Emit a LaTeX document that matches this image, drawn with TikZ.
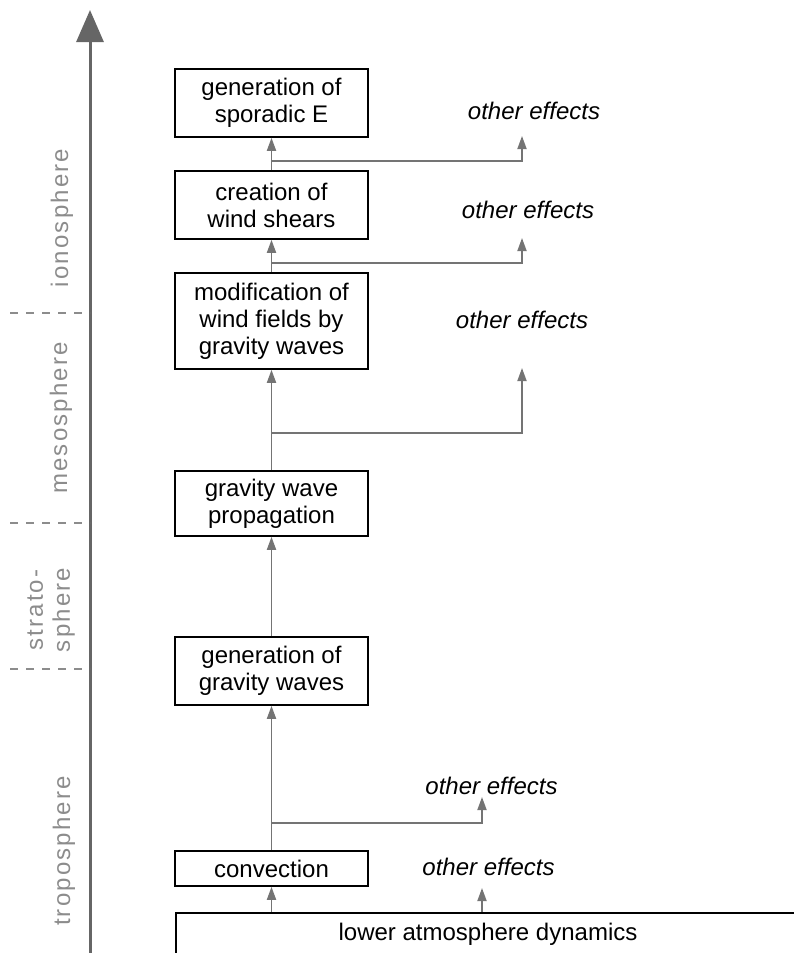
\documentclass[tikz,border=0pt]{standalone}
\usepackage{fontspec}
\setmainfont{Liberation Sans}
\usetikzlibrary{arrows.meta}
\definecolor{axisgray}{HTML}{666666}
\definecolor{linegray}{HTML}{747474}
\definecolor{labelgray}{HTML}{8C8C8C}
\begin{document}
\begin{tikzpicture}[x=1pt,y=-1pt,
  box/.style={draw=black,line width=1.6pt,minimum width=193pt,align=center,inner sep=0pt,
    font=\fontsize{24}{27}\selectfont},
  eff/.style={inner sep=0pt,font=\fontsize{24}{27}\selectfont\itshape},
  layer/.style={rotate=90,text=labelgray,align=center,inner sep=0pt,
    font=\fontsize{24}{27}\selectfont\addfontfeature{LetterSpace=9}},
  conn/.style={draw=linegray,line width=1.8pt},
  arr/.style={conn,-{Triangle[width=9pt,length=13pt]}},
  dashline/.style={draw=labelgray,line width=1.4pt,dash pattern=on 8pt off 8pt},
  axisline/.style={draw=axisgray,line width=3pt,-{Triangle[width=27pt,length=32pt]}},
]
\useasboundingbox (0,0) rectangle (794,953);
\clip (0,0) rectangle (794,953);

% axis
\coordinate (axb) at (90,953);
\coordinate (axt) at (90,10);
\draw[axisline] (axb) -- (axt);

% layer separators
\coordinate (d1a) at (10,313); \coordinate (d1b) at (90,313);
\coordinate (d2a) at (10,523); \coordinate (d2b) at (90,523);
\coordinate (d3a) at (10,669); \coordinate (d3b) at (90,669);
\draw[dashline] (d1a) -- (d1b);
\draw[dashline] (d2a) -- (d2b);
\draw[dashline] (d3a) -- (d3b);

% layer labels
\node[layer] (ion) at (62,218) {ionosphere};
\node[layer] (meso) at (61,418) {mesosphere};
\node[layer] (strat) at (51,610) {strato-\\sphere};
\node[layer] (trop) at (64,851) {troposphere};

% boxes
\node[box,minimum height=68pt] (se) at (271.5,103) {generation of\\sporadic E};
\node[box,minimum height=68pt] (ws) at (271.5,205) {creation of\\wind shears};
\node[box,minimum height=96pt] (wf) at (271.5,321) {modification of\\wind fields by\\gravity waves};
\node[box,minimum height=65pt] (gp) at (271.5,503.5) {gravity wave\\propagation};
\node[box,minimum height=68pt] (gg) at (271.5,671) {generation of\\gravity waves};
\node[box,minimum height=35pt] (cv) at (271.5,868.5) {convection};
\node[box,minimum width=624pt,minimum height=42pt] (la) at (488,934) {lower atmosphere dynamics};

% other effects
\node[eff] (oe1) at (534,111) {other effects};
\node[eff] (oe2) at (528,210) {other effects};
\node[eff] (oe3) at (522,320) {other effects};
\node[eff] (oe4) at (491.5,786) {other effects};
\node[eff] (oe5) at (488.5,867) {other effects};

% main chain
\draw[arr] (ws.north) -- (se.south);
\draw[arr] (wf.north) -- (ws.south);
\draw[arr] (gp.north) -- (wf.south);
\draw[arr] (gg.north) -- (gp.south);
\draw[arr] (cv.north) -- (gg.south);
\draw[arr] (cv.south |- la.north) -- (cv.south);

% branches
\coordinate (b1) at (271.5,161); \coordinate (t1) at (522,136);
\coordinate (b2) at (271.5,263); \coordinate (t2) at (522,238);
\coordinate (b3) at (271.5,433); \coordinate (t3) at (522,368);
\coordinate (b4) at (271.5,823); \coordinate (t4) at (482,797);
\coordinate (t5) at (482,888);
\draw[arr] (b1) -| (t1);
\draw[arr] (b2) -| (t2);
\draw[arr] (b3) -| (t3);
\draw[arr] (b4) -| (t4);
\draw[arr] (t5 |- la.north) -- (t5);
\end{tikzpicture}
\end{document}
